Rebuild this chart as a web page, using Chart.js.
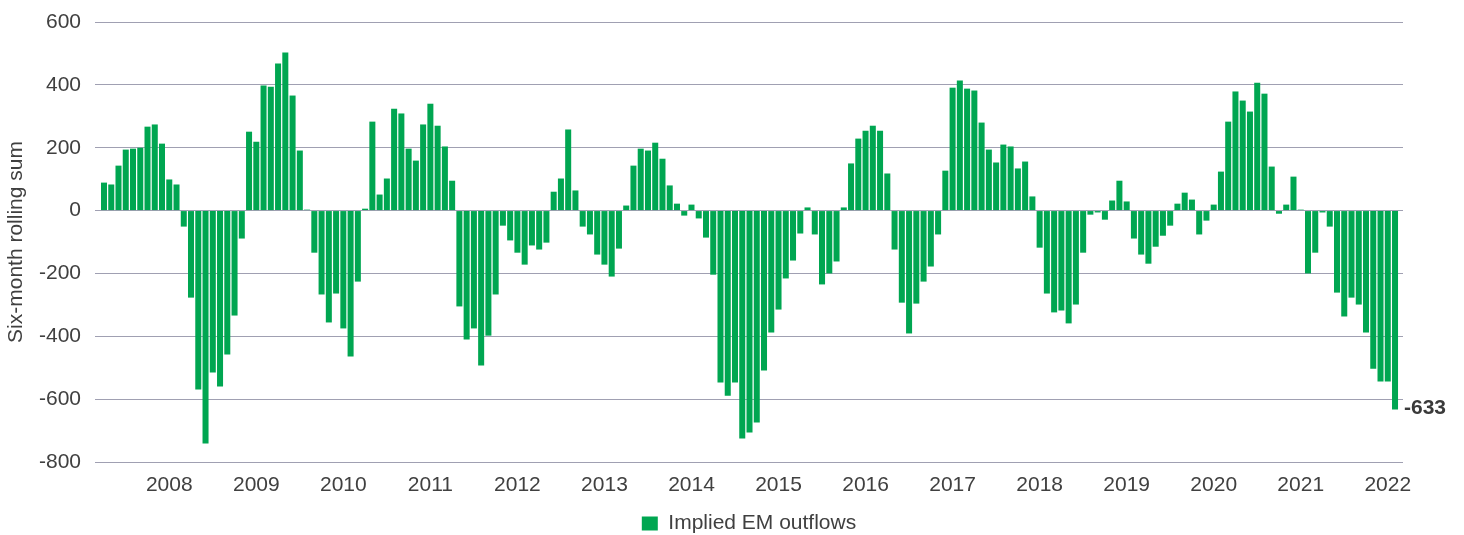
<!DOCTYPE html>
<html>
<head>
<meta charset="utf-8">
<script src="https://cdn.jsdelivr.net/npm/chart.js@4/dist/chart.umd.min.js"></script>
<style>
  html, body { margin: 0; padding: 0; background: #fff; }
  #wrap { width: 1464px; height: 535px; }
</style>
</head>
<body>
<div id="wrap"><canvas id="chart" width="1464" height="535"></canvas></div>
<script>
// monthly series, first bar = April 2007, last = Feb 2022
const START_YEAR = 2007;
const START_MONTH = 4;

const seriesLabel = 'Implied EM outflows';

const outflows = [
  89, 83, 143, 194, 197, 200, 267, 274, 213, 99, 83, -51, -277, -569, -741, -515, -560, -458, -334, -89, 251, 219,
  398, 394, 468, 503, 366, 191, 3, -134, -267, -356, -264, -375, -464, -226, 6, 283, 51, 102, 324, 309, 197, 159,
  274, 340, 270, 204, 95, -305, -410, -375, -493, -398, -267, -48, -95, -134, -172, -111, -124, -102, 60, 102, 258, 64,
  -51, -76, -140, -172, -210, -121, 16, 143, 197, 191, 216, 165, 80, 22, -16, 19, -25, -86, -204, -547, -589, -547,
  -725, -706, -674, -509, -388, -315, -216, -159, -73, 10, -76, -235, -200, -162, 10, 150, 229, 254, 270, 254, 118, -124,
  -293, -391, -296, -226, -178, -76, 127, 391, 414, 388, 382, 280, 194, 153, 210, 204, 134, 156, 45, -118, -264, -324,
  -318, -359, -299, -134, -13, -6, -29, 32, 95, 29, -89, -140, -169, -115, -80, -48, 22, 57, 35, -76, -32, 19,
  124, 283, 379, 350, 315, 407, 372, 140, -10, 19, 108, 3, -200, -134, -6, -51, -261, -337, -277, -299, -388, -503, -544, -544, -633,
];

const yearTicks = ['2008', '2009', '2010', '2011', '2012', '2013', '2014', '2015',
  '2016', '2017', '2018', '2019', '2020', '2021', '2022'];

const yTicks = [600, 400, 200, 0, -200, -400, -600, -800];

const GREEN = '#00a651';
const TEXT = '#404040';
const GRID = '#a0a0b2';
const FONT = "'Liberation Sans', Arial, sans-serif";

// index of January of a given year in the monthly series
const janIndex = (y) => (Number(y) - START_YEAR) * 12 - (START_MONTH - 1);

const points = outflows.map((v, i) => ({ x: i, y: v }));

const lastLabel = {
  id: 'lastLabel',
  afterDatasetsDraw(chart) {
    const meta = chart.getDatasetMeta(0);
    const bar = meta.data[meta.data.length - 1];
    const v = outflows[outflows.length - 1];
    const { ctx, chartArea } = chart;
    ctx.save();
    ctx.font = `bold 21px ${FONT}`;
    ctx.fillStyle = '#3a3a3a';
    ctx.textAlign = 'left';
    ctx.textBaseline = 'middle';
    ctx.fillText(String(v), chartArea.right + 1, bar.y - 1);
    ctx.restore();
  },
};

new Chart(document.getElementById('chart'), {
  type: 'bar',
  data: {
    datasets: [
      {
        label: seriesLabel,
        data: points,
        backgroundColor: GREEN,
        borderWidth: 0,
        categoryPercentage: 1,
        barPercentage: 0.83,
      },
    ],
  },
  options: {
    responsive: false,
    animation: false,
    // legend sits a little lower than chart.js would put it
    layout: { padding: { top: 22, right: 61, left: 0, bottom: -9 } },
    scales: {
      x: {
        type: 'linear',
        offset: false,
        min: -1.24,
        max: 179.1,
        grid: { display: false },
        border: { display: false },
        afterBuildTicks(scale) {
          scale.ticks = yearTicks.map((y) => ({ value: janIndex(y) }));
        },
        afterFit(scale) {
          scale.height = 41;
        },
        ticks: {
          autoSkip: false,
          maxRotation: 0,
          padding: 3,
          color: TEXT,
          font: { family: FONT, size: 21 },
          callback: (v) => yearTicks.find((y) => janIndex(y) === v) || '',
        },
      },
      y: {
        min: -800,
        max: 600,
        afterBuildTicks(scale) {
          scale.ticks = yTicks.map((v) => ({ value: v }));
        },
        afterFit(scale) {
          scale.width = 95;
        },
        // invisible tick marks give the label gap without padding the top
        grid: { color: GRID, lineWidth: 1, drawTicks: true, tickLength: 14, tickColor: 'rgba(0,0,0,0)' },
        border: { display: false },
        ticks: {
          padding: 0,
          color: TEXT,
          font: { family: FONT, size: 21 },
        },
        title: {
          display: true,
          text: 'Six-month rolling sum',
          color: TEXT,
          font: { family: FONT, size: 21 },
          padding: { top: 4, bottom: 4 },
        },
      },
    },
    plugins: {
      legend: {
        position: 'bottom',
        fullSize: false,
        labels: {
          boxWidth: 16,
          boxHeight: 14,
          color: TEXT,
          font: { family: FONT, size: 21 },
        },
      },
      tooltip: { enabled: false },
    },
  },
  plugins: [lastLabel],
});
</script>
</body>
</html>
